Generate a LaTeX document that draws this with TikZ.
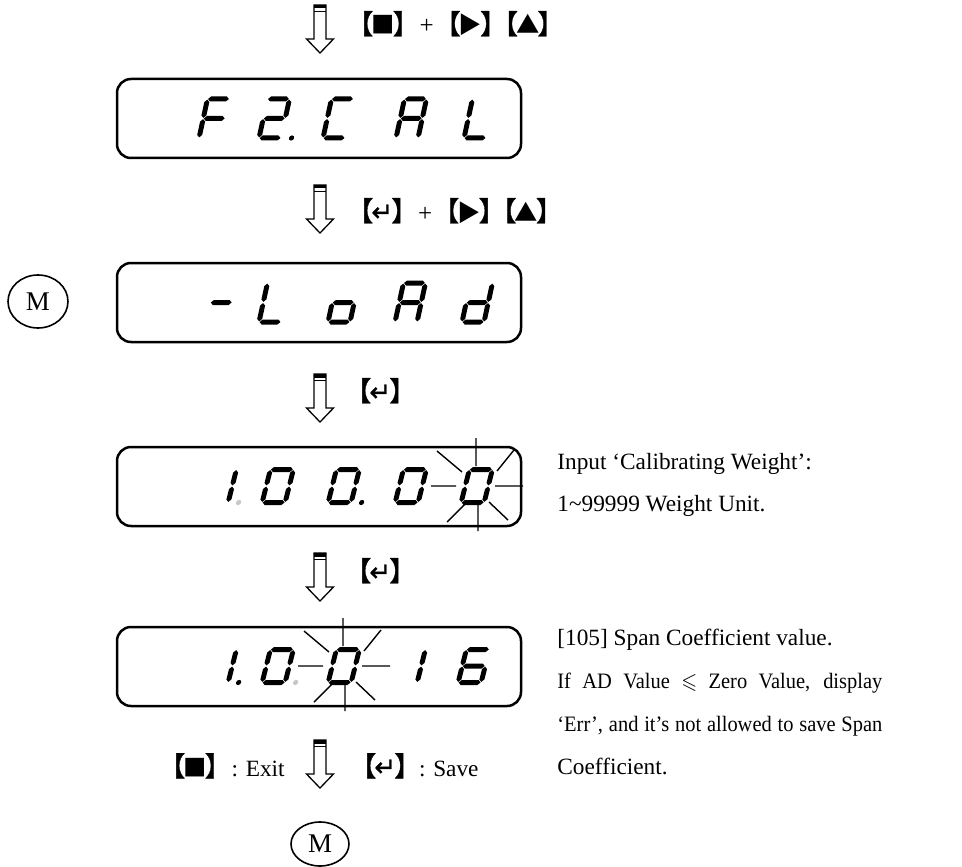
\documentclass[tikz,border=0pt]{standalone}
\usepackage{amssymb}
\usepackage{graphicx}
\usepackage{fontspec}
\setmainfont{Liberation Serif}
\newfontfamily\cjk{Noto Sans CJK SC}
\newfontfamily\cjkb{Noto Sans CJK SC}[FakeBold=1.2]
\newfontfamily\djv{DejaVu Sans}[FakeBold=1]
\usetikzlibrary{shapes.geometric}
\definecolor{lcdgray}{gray}{0.78}
\newcommand\txtfont{\fontsize{11.65pt}{14pt}\selectfont}
\newcommand\mfont{\fontsize{13.5pt}{16pt}\selectfont}
% seven-segment helpers
\def\gp{0.6}
\newcommand\hsg[3]{\fill ({#1},{#3}) -- ({#1+2.5},{#3+2.5}) -- ({#2-2.5},{#3+2.5}) -- ({#2},{#3}) -- ({#2-2.5},{#3-2.5}) -- ({#1+2.5},{#3-2.5}) -- cycle;}
\newcommand\vsg[3]{\fill ({#1},{#2}) -- ({#1+2.5},{#2+2.5}) -- ({#1+2.5},{#3-2.5}) -- ({#1},{#3}) -- ({#1-2.5},{#3-2.5}) -- ({#1-2.5},{#2+2.5}) -- cycle;}
\def\dW{28}\def\dH{38}\def\dSl{0.125pt}
\expandafter\def\csname lsg@a\endcsname{\hsg{2.5+\gp}{\dW-2.5-\gp}{\dH-2.5}}
\expandafter\def\csname lsg@b\endcsname{\vsg{\dW-2.5}{\dH/2+\gp}{\dH-2.5-\gp}}
\expandafter\def\csname lsg@c\endcsname{\vsg{\dW-2.5}{2.5+\gp}{\dH/2-\gp}}
\expandafter\def\csname lsg@d\endcsname{\hsg{2.5+\gp}{\dW-2.5-\gp}{2.5}}
\expandafter\def\csname lsg@e\endcsname{\vsg{2.5}{2.5+\gp}{\dH/2-\gp}}
\expandafter\def\csname lsg@f\endcsname{\vsg{2.5}{\dH/2+\gp}{\dH-2.5-\gp}}
\expandafter\def\csname lsg@g\endcsname{\hsg{2.5+\gp}{\dW-2.5-\gp}{\dH/2}}
\expandafter\def\csname lsg@p\endcsname{\fill (\dW+8,2.5) circle (2.6);}
\expandafter\def\csname lsg@q\endcsname{\fill[lcdgray] (\dW+8,2.5) circle (2.6);}
\newcommand\lcddigit[3]{\begin{scope}[shift={(#1,#2)},x={(0.5pt,0pt)},y={(\dSl,0.5pt)}]\foreach \s in {#3}{\csname lsg@\s\endcsname}\end{scope}}
\newcommand\blink[2]{\begin{scope}[shift={(#1,#2)}]
  \draw[ray] (-1,-48)--(-1,-20) (1,19)--(1,45) (-46,0)--(-21,0) (18,0)--(46,0)
    (-40,-35)--(-15,-14) (37,-36)--(20,-15) (-30,36)--(-12,18) (31,34)--(12,16);
  \end{scope}}
\newcommand\brk[1]{{\cjkb\fontsize{13.5pt}{16pt}\selectfont #1}}
\newcommand\kb[1]{\brk{【}\kern-1pt#1\kern-1pt\brk{】}}
\newcommand\sq{{\cjk ■}}
\newcommand\tri{{\cjk ▶}}
\newcommand\up{{\cjk ▲}}
\newcommand\ent{{\djv\fontsize{13pt}{14pt}\selectfont ↵}}
\newcommand\plus{{\fontsize{12.5pt}{14pt}\selectfont +}}
\newcommand\jline[1]{{\fontsize{11pt}{14pt}\selectfont\scalebox{0.93}[1]{\makebox[174.7pt][s]{#1}}}}
\begin{document}
\begin{tikzpicture}[x=0.5pt,y=-0.5pt,
  lcdbox/.style={draw, line width=1.25pt, rounded corners=7pt, minimum width=202pt, minimum height=39.5pt, inner sep=0pt},
  ray/.style={line width=0.7pt},
  mcirc/.style={draw, ellipse, line width=0.8pt, inner sep=0pt, font=\mfont},
  keylbl/.style={anchor=base west, inner sep=0pt, font=\txtfont},
  note/.style={anchor=base west, inner sep=0pt, font=\txtfont},
  hollowarrow/.pic={
    \draw[line width=0.65pt, fill=white] (-6,0) -- (-6,34) -- (-13.5,34) -- (0,48) -- (13.5,34) -- (6,34) -- (6,0) -- cycle;
    \fill (-6,0) rectangle (6,3.5);
    \draw[line width=0.4pt] (-6,6.5) -- (6,6.5);
  }]
\useasboundingbox (0,0) rectangle (962,866);

% display boxes
\node[lcdbox] (d1) at (319,118.5) {};
\node[lcdbox] (d2) at (319,302.5) {};
\node[lcdbox] (d3) at (319,486.5) {};
\node[lcdbox] (d4) at (319,666.5) {};

% arrows
\coordinate (a1) at (320,5);
\coordinate (a2) at (320,185);
\coordinate (a3) at (320,374);
\coordinate (a4) at (320,553);
\coordinate (a5) at (320,740);
\foreach \c in {a1,a2,a3,a4,a5} {\pic at (\c) {hollowarrow};}

% key labels
\node[keylbl] (k1) at (346,34) {\kb{\sq}\plus\kb{\tri}\kern-8pt\kb{\up}};
\node[keylbl] (k2) at (346,221) {\kb{\ent}\plus\kb{\tri}\kern-8pt\kb{\up}};
\node[keylbl] (k3) at (344,401) {\kb{\ent}};
\node[keylbl] (k4) at (344,581) {\kb{\ent}};
\node[keylbl] (k5) at (158,776) {\kb{\sq}\kern-3pt{} : Exit};
\node[keylbl] (k6) at (349,776) {\kb{\ent}\kern-4pt{} : Save};

% M circles
\node[mcirc, minimum width=30pt, minimum height=26.5pt] (m1) at (38,301.5) {M};
\node[mcirc, minimum width=29pt, minimum height=22pt] (m2) at (320,844) {M};

% box 1: F2.CAL
\def\dW{27}\def\dH{44}\def\dSl{0.108pt}
\lcddigit{196}{140.5}{a,e,f,g}
\lcddigit{256}{140.5}{a,b,g,e,d,p}
\lcddigit{320}{140.5}{a,f,e,d}
\lcddigit{393}{140.5}{a,b,c,e,f,g}
\lcddigit{461}{140.5}{f,e,d}
% box 2: -LoAd
\lcddigit{203}{324.5}{g}
\lcddigit{256}{324.5}{f,e,d}
\lcddigit{325}{324.5}{c,d,e,g}
\lcddigit{392}{324.5}{a,b,c,e,f,g}
\lcddigit{459}{324.5}{b,c,d,e,g}
% box 3: 1 00.0 0
\def\dW{28}\def\dH{38}\def\dSl{0.125pt}
\lcddigit{202}{505}{b,c,q}
\lcddigit{259}{505}{a,b,c,d,e,f}
\lcddigit{325}{505}{a,b,c,d,e,f,p}
\lcddigit{392}{505}{a,b,c,d,e,f}
\lcddigit{458}{505}{a,b,c,d,e,f}
\blink{477}{486}
% box 4: 1.00 16
\lcddigit{202}{685}{b,c,p}
\lcddigit{259}{685}{a,b,c,d,e,f,q}
\lcddigit{325}{685}{a,b,c,d,e,f}
\lcddigit{391}{685}{b,c}
\lcddigit{455}{685}{a,f,g,e,d,c}
\blink{344}{666}

% notes
\node[note] (n1) at (557,469) {Input ‘Calibrating Weight’:};
\node[note] (n2) at (557,511) {1\textasciitilde 99999 Weight Unit.};
\node[note] (n3) at (557,645) {[105] Span Coefficient value.};
\node[note] (n4) at (557,688) {\jline{If AD Value $\leqslant$ Zero Value, display}};
\node[note] (n5) at (557,731) {\jline{‘Err’, and it’s not allowed to save Span}};
\node[note] (n6) at (557,774) {Coefficient.};
\end{tikzpicture}
\end{document}
